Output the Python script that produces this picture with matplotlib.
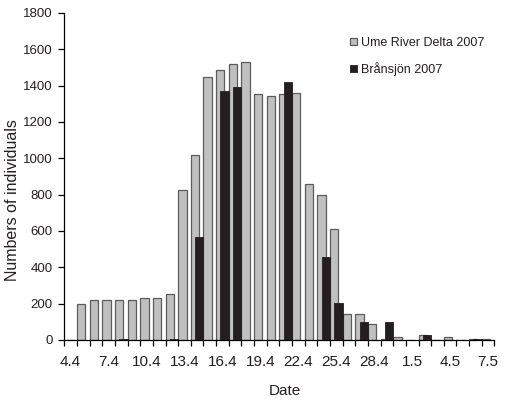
"""Daily counts at two sites, spring 2007, drawn as overlapping columns."""
import matplotlib

matplotlib.use("Agg")

import matplotlib.pyplot as plt  # noqa: E402
import numpy as np  # noqa: E402
from matplotlib.patches import Patch  # noqa: E402

# ---------------------------------------------------------------------------
# Data
# ---------------------------------------------------------------------------

dates = [f"{d}.4" for d in range(4, 31)] + [f"{d}.5" for d in range(1, 8)]

ume_2007 = [0, 198, 218, 218, 218, 218, 232, 232, 255, 825,
            1020, 1448, 1488, 1521, 1527, 1353, 1342, 1353, 1360, 856,
            797, 609, 141, 141, 88, 8, 18, 0, 25, 0,
            18, 0, 4, 5]

bransjon_2007 = [0, 0, 0, 0, 5, 0, 0, 0, 5, 0,
                 568, 0, 1371, 1393, 0, 0, 0, 1421, 0, 0,
                 458, 205, 0, 99, 0, 97, 0, 0, 25, 0,
                 0, 0, 6, 0]

series_labels = ["Ume River Delta 2007", "Brånsjön 2007"]
label_every = 3
y_ticks = list(range(0, 1801, 200))

# ---------------------------------------------------------------------------
# Style
# ---------------------------------------------------------------------------

_TEXT = "#231f20"
_GREY = "#c0c0c0"
_GREY_EDGE = "#5c5c5c"
_BLACK = "#231f20"

plt.rcParams["font.family"] = ["Liberation Sans", "DejaVu Sans"]

fig = plt.figure(figsize=(5.06, 4.0), dpi=100)
ax = fig.add_axes([0.1271, 0.15, 0.850, 0.818])

x = np.arange(len(dates))
width = 0.66
shift = 0.17

ax.bar(x - shift, ume_2007, width, color=_GREY, edgecolor=_GREY_EDGE,
       linewidth=0.9, zorder=2)
ax.bar(x + shift, bransjon_2007, width, color=_BLACK, edgecolor=_BLACK,
       linewidth=0.6, zorder=3)

ax.set_xlim(-0.5, len(dates) - 0.5)
ax.set_ylim(0, 1800)

# tick marks sit between days, labels under every third day
ax.set_xticks(np.arange(len(dates) + 1) - 0.5)
ax.set_xticklabels([])
ax.set_xticks(x[::label_every], minor=True)
ax.set_xticklabels(dates[::label_every], minor=True, fontsize=11,
                   color=_TEXT)
ax.tick_params(axis="x", which="major", direction="out", length=4,
               width=0.9, color="black")
ax.tick_params(axis="x", which="minor", length=0, pad=11)

ax.set_yticks(y_ticks)
ax.set_yticklabels([str(v) for v in y_ticks], fontsize=9.5, color=_TEXT)
ax.tick_params(axis="y", direction="out", length=4.5, width=0.9, pad=4)

for side in ("top", "right"):
    ax.spines[side].set_visible(False)
for side in ("left", "bottom"):
    ax.spines[side].set_linewidth(0.9)

ax.set_xlabel("Date", fontsize=11, color=_TEXT)
ax.xaxis.set_label_coords(0.513, -0.135)
ax.set_ylabel("Numbers of individuals", fontsize=11.5, color=_TEXT)
ax.yaxis.set_label_coords(-0.103, 0.428)

handles = [
    Patch(facecolor=_GREY, edgecolor=_GREY_EDGE, linewidth=0.9),
    Patch(facecolor=_BLACK, edgecolor=_BLACK, linewidth=0.6),
]
fig.legend(handles, series_labels, loc="upper left",
           bbox_to_anchor=(350 / 506, 1 - 37 / 400), frameon=False,
           fontsize=9, handlelength=0.55, handleheight=0.55,
           handletextpad=0.3, labelspacing=1.05, borderpad=0,
           borderaxespad=0, labelcolor=_TEXT)

fig.savefig("out.png", dpi=100)
plt.close(fig)
